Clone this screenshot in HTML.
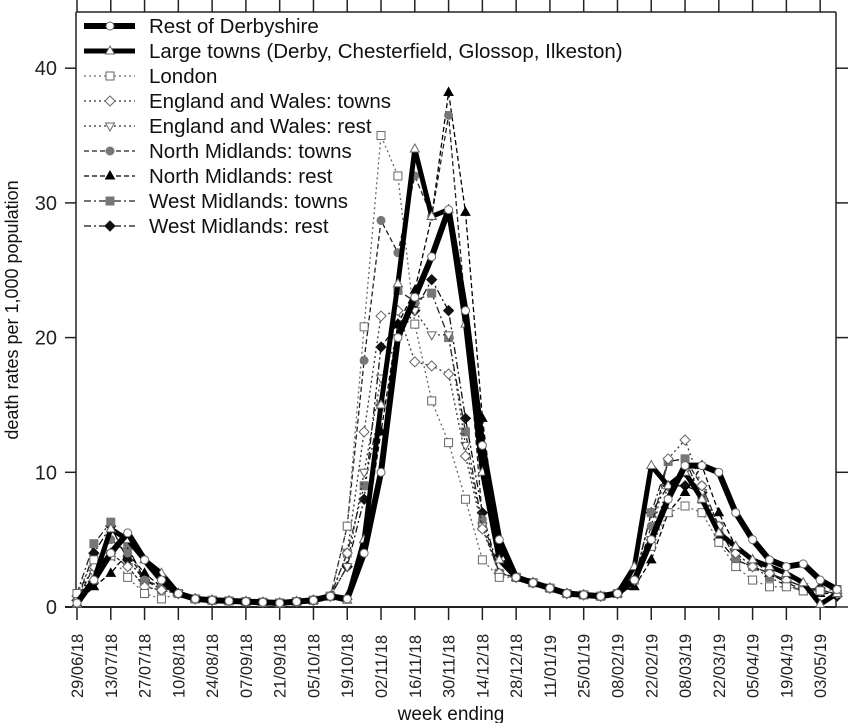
<!DOCTYPE html>
<html><head><meta charset="utf-8"><style>
html,body{margin:0;padding:0;background:#fff;}
svg{display:block;font-family:"Liberation Sans",Arial,sans-serif;}
</style></head><body>
<svg id="s" width="850" height="723" xmlns="http://www.w3.org/2000/svg"></svg>
<script>
const S=document.getElementById('s');
const X0=77,DX=16.89,Y0=607,DY=13.47;
const X=i=>X0+i*DX, Y=v=>Y0-v*DY;
let h='';
h+='<line x1="65" y1="607" x2="836" y2="607" stroke="#222" stroke-width="2"/>';
h+='<line x1="76" y1="12" x2="836" y2="12" stroke="#222" stroke-width="1.5"/>';
h+='<line x1="76" y1="12" x2="76" y2="607" stroke="#222" stroke-width="1.5"/>';
h+='<line x1="836" y1="12" x2="836" y2="607" stroke="#222" stroke-width="1.5"/>';
for(let v=0;v<=40;v+=10){const y=Y(v);h+=`<line x1="65" y1="${y}" x2="76" y2="${y}" stroke="#222" stroke-width="1.5"/><line x1="836" y1="${y}" x2="848" y2="${y}" stroke="#222" stroke-width="1.5"/><text x="57" y="${y+7}" font-size="20" text-anchor="end" fill="#222">${v}</text>`;}
const labels=["29/06/18","13/07/18","27/07/18","10/08/18","24/08/18","07/09/18","21/09/18","05/10/18","19/10/18","02/11/18","16/11/18","30/11/18","14/12/18","28/12/18","11/01/19","25/01/19","08/02/19","22/02/19","08/03/19","22/03/19","05/04/19","19/04/19","03/05/19"];
labels.forEach((l,k)=>{const x=X(2*k);h+=`<line x1="${x}" y1="607" x2="${x}" y2="620" stroke="#222" stroke-width="1.5"/><line x1="${x}" y1="0" x2="${x}" y2="12" stroke="#222" stroke-width="1.5"/><text transform="translate(${x+6},698) rotate(-90)" font-size="16.5" fill="#222">${l}</text>`;});
h+='<text transform="translate(18,310) rotate(-90)" font-size="18" text-anchor="middle" fill="#111">death rates per 1,000 population</text>';
h+='<text x="451" y="720" font-size="19" text-anchor="middle" fill="#111">week ending</text>';
function full(sparse){const a=[];for(let i=0;i<46;i++)a.push(sparse[i]!==undefined?sparse[i]:null);
 const keys=Object.keys(sparse).map(Number).sort((a,b)=>a-b);
 for(let i=0;i<46;i++){if(a[i]===null){let lo=keys.filter(k=>k<i).pop(),hi=keys.find(k=>k>i);if(lo===undefined)a[i]=sparse[hi];else if(hi===undefined)a[i]=sparse[lo];else a[i]=sparse[lo]+(sparse[hi]-sparse[lo])*(i-lo)/(hi-lo);}}
 return a;}
const base={6:1,7:0.6,8:0.5,10:0.4,12:0.3,14:0.5,15:0.8,26:2.2,27:1.8,29:1,31:0.8};
function mk(o){const p={};for(const k in o){const n=+k;if(n>=32){if(n+1<46)p[n+1]=o[k];}else p[n]=o[k];}
 const r=Object.assign({},base,p);r[32]=1;if(r[45]===undefined)r[45]=0.6;return full(r);}
const series=[
 {d:mk({0:0.3,1:2,2:4,3:5.5,4:3.5,5:2,16:0.6,17:4,18:10,19:20,20:23,21:26,22:29.5,23:22,24:12,25:5,32:2,33:5,34:8,35:10.5,36:10.5,37:10,38:7,39:5,40:3.5,41:3,42:3.2,43:2,44:1.3,45:0.6}),w:6,dash:'',m:'circ',mf:'#fff',c:'#000'},
 {d:mk({0:0.2,1:2,2:5.8,3:5,4:3.5,5:2.5,16:0.5,17:5,18:15,19:24,20:34,21:29,22:29.5,23:21,24:10,25:3.5,32:3,33:10.5,34:9,35:10,36:8,37:5.5,38:4.5,39:3.5,40:3,41:2.5,42:1.8,43:0.2,44:1,45:0.5}),w:5,dash:'',m:'tri',mf:'#fff',c:'#000'},
 {d:mk({0:1,1:3.5,2:3.8,3:2.2,4:1,5:0.6,16:6,17:20.8,18:35,19:32,20:21,21:15.3,22:12.2,23:8,24:3.5,25:2.2,32:2,33:4.5,34:7,35:7.5,36:7,37:4.8,38:3,39:2,40:1.5,41:1.5,42:1.2,43:1.2,44:1.3,45:0.8}),w:1.3,dash:'2,3',m:'sq',mf:'#fff',c:'#666'},
 {d:mk({0:0.8,1:3,2:4,3:3,4:1.5,16:4,17:13,18:21.6,19:22,20:18.2,21:17.9,22:17.3,23:11.2,24:5.8,25:2.5,32:2,33:5,34:11,35:12.4,36:9,37:6,38:4,39:3,40:2.5,41:2,42:1.5,43:1.2,44:1,45:0.6}),w:1.3,dash:'2,3',m:'dia',mf:'#fff',c:'#333'},
 {d:mk({0:0.6,1:2.5,2:4,3:3,4:1.5,16:3,17:10,18:17,19:20,20:22,21:20.2,22:20.2,23:12,24:6,25:2.5,32:2,33:5,34:9,35:10,36:8.5,37:6,38:4,39:3,40:2.5,41:2,42:1.5,43:1.2,44:1,45:0.6}),w:1.3,dash:'2,3',m:'itri',mf:'#fff',c:'#333'},
 {d:mk({0:0.5,1:3,2:5,3:4,4:2,16:6,17:18.3,18:28.7,19:26.3,20:32,21:29,22:36.5,23:22,24:6.5,25:2.5,32:2,33:6,34:10.8,35:11,36:9,37:6,38:3.5,39:3,40:2.5,41:2,42:1.5,43:1.2,44:1,45:0.6}),w:1.3,dash:'5,3',m:'circ',mf:'#777',c:'#222'},
 {d:mk({0:0.3,1:1.5,2:2.5,3:4,4:2.5,5:1.5,16:0.8,17:5,18:13,19:21,20:23.5,21:29,22:38.2,23:29.3,24:14,25:4,32:1.5,33:3.5,34:7,35:8.5,36:10.5,37:7,38:4.5,39:3.5,40:2.5,41:2,42:1.5,43:1,44:1,45:0.6}),w:1.3,dash:'5,3',m:'tri',mf:'#000',c:'#000'},
 {d:mk({0:1,1:4.7,2:6.3,3:4.5,4:2,5:1.3,16:4,17:9,18:15,19:23.5,20:22.7,21:23.3,22:20,23:13,24:6,25:2.5,32:2,33:7,34:10.8,35:11,36:8,37:6,38:3.5,39:3,40:2.2,41:1.6,42:1.2,43:1.2,44:1,45:0.5}),w:1.3,dash:'7,3,2,3',m:'sq',mf:'#777',c:'#222'},
 {d:mk({0:0.5,1:4,2:6,3:3.5,4:2,16:3,17:8,18:19.3,19:21,20:22,21:24.3,22:22,23:14,24:7,25:2.5,32:2,33:7,34:9,35:9,36:8.5,37:5,38:3.5,39:3,40:2.5,41:1.8,42:1.3,43:1.4,44:0.8,45:0.8}),w:1.3,dash:'7,3,2,3',m:'dia',mf:'#111',c:'#111'},
];
function marker(t,x,y,f){const st=`fill="${f}" stroke="${f=='#fff'?'#666':f}" stroke-width="1"`;
 if(t=='circ')return `<circle cx="${x}" cy="${y}" r="4" ${st}/>`;
 if(t=='sq')return `<rect x="${x-4}" y="${y-4}" width="8" height="8" ${st}/>`;
 if(t=='dia')return `<polygon points="${x},${y-5} ${x+5},${y} ${x},${y+5} ${x-5},${y}" ${st}/>`;
 if(t=='tri')return `<polygon points="${x},${y-5} ${x+4.5},${y+3} ${x-4.5},${y+3}" ${st}/>`;
 if(t=='itri')return `<polygon points="${x},${y+5} ${x+4.5},${y-3} ${x-4.5},${y-3}" ${st}/>`;}
for(let k=series.length-1;k>=0;k--){const s=series[k];const pts=s.d.map((v,i)=>X(i).toFixed(1)+','+Y(v).toFixed(1)).join(' ');
 h+=`<polyline points="${pts}" fill="none" stroke="${s.c}" stroke-width="${s.w}" stroke-dasharray="${s.dash}" stroke-linejoin="round"/>`;
 s.d.forEach((v,i)=>{h+=marker(s.m,X(i),Y(v),s.mf);});}
const names=["Rest of Derbyshire","Large towns (Derby, Chesterfield, Glossop, Ilkeston)","London","England and Wales: towns","England and Wales: rest","North Midlands: towns","North Midlands: rest","West Midlands: towns","West Midlands: rest"];
names.forEach((n,k)=>{const y=27+k*25;const s=series[k];
 h+=`<line x1="84" y1="${y-1}" x2="135" y2="${y-1}" stroke="${s.c}" stroke-width="${s.w}" stroke-dasharray="${s.dash}"/>`;
 h+=marker(s.m,110,y-1,s.mf);
 h+=`<text x="149" y="${y+6}" font-size="20.5" fill="#111">${n}</text>`;});
S.innerHTML=h;
</script>
</body></html>
